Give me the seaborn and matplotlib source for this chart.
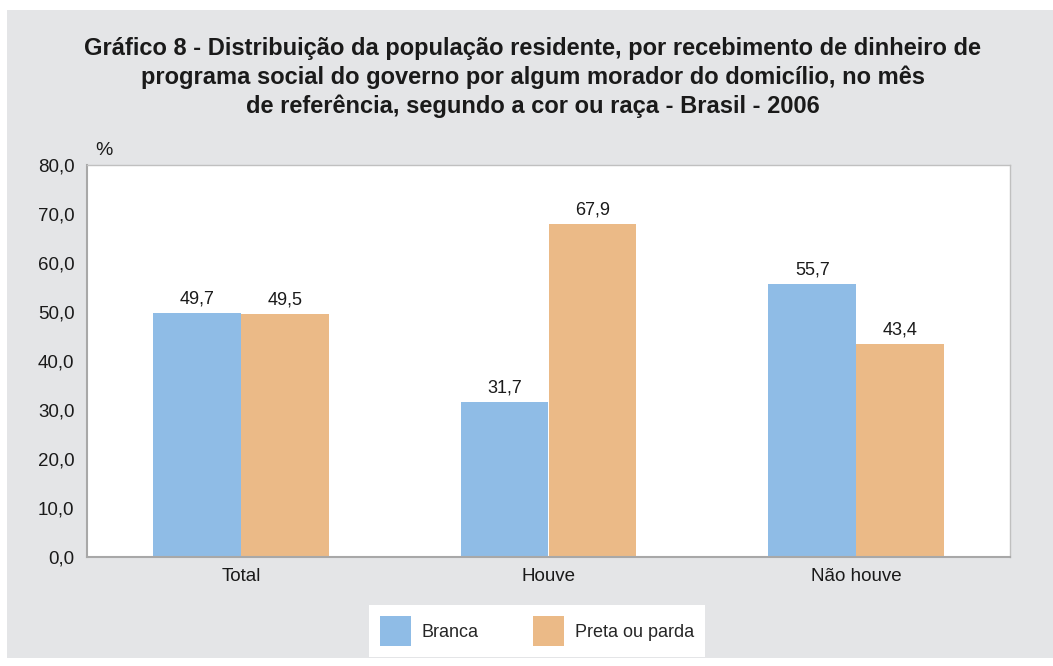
import numpy as np
import pandas as pd
import matplotlib.pyplot as plt
import matplotlib.patches as mpatches
import seaborn as sns

# data
categorias = ["Total", "Houve", "Não houve"]
branca = [49.7, 31.7, 55.7]
preta_parda = [49.5, 67.9, 43.4]
grupos = ["Branca", "Preta ou parda"]
yticks = [0, 10, 20, 30, 40, 50, 60, 70, 80]

df = pd.DataFrame({
    "categoria": categorias * 2,
    "grupo": [grupos[0]] * 3 + [grupos[1]] * 3,
    "valor": branca + preta_parda,
})

sns.set_style("white")
plt.rcParams["font.family"] = ["Liberation Sans", "DejaVu Sans"]

BG = "#e4e5e7"
TXT = "#1a1a1a"
cores = ["#8fbce6", "#ebba87"]

fig = plt.figure(figsize=(10.53, 6.66), dpi=100)
fig.patch.set_facecolor("white")
fig.add_artist(mpatches.Rectangle((7 / 1053, 8 / 666), 1 - 7 / 1053, 1 - 18 / 666,
                                  transform=fig.transFigure, facecolor=BG,
                                  edgecolor="none", zorder=-10))

ax = fig.add_axes([87 / 1053, 1 - 557 / 666, (1010 - 87) / 1053, (557 - 165) / 666])
sns.barplot(data=df, x="categoria", y="valor", hue="grupo", palette=cores,
            width=0.57, saturation=1, ax=ax, legend=False, linewidth=0, edgecolor="none")

for cont in ax.containers:
    ax.bar_label(cont, labels=[f"{v:.1f}".replace(".", ",") for v in cont.datavalues],
                 padding=4, fontsize=13, color=TXT)

ax.set_ylim(0, 80)
ax.set_xlim(-0.5, 2.5)
ax.set_yticks(yticks)
ax.set_yticklabels([f"{v:.1f}".replace(".", ",") for v in yticks], fontsize=13.5, color=TXT)
ax.set_xticks([0, 1, 2])
ax.set_xticklabels(categorias, fontsize=13.5, color=TXT)
ax.tick_params(axis="x", length=0, pad=8)
ax.tick_params(axis="y", length=5, color="#a0a0a0", pad=4)
ax.set_xticks([-0.5, 0.5, 1.5, 2.5], minor=True)
ax.tick_params(axis="x", which="minor", length=6, color="#a0a0a0", direction="out")
ax.set_xlabel("")
ax.set_ylabel("")
ax.set_facecolor("white")
for s in ["top", "right"]:
    ax.spines[s].set_color("#c0c0c0")
    ax.spines[s].set_linewidth(1)
for s in ["left", "bottom"]:
    ax.spines[s].set_color("#a8a8a8")
    ax.spines[s].set_linewidth(1.5)

ax.text(0.009, 1.015, "%", transform=ax.transAxes, fontsize=14, color=TXT,
        ha="left", va="bottom")

titulo = ("Gráfico 8 - Distribuição da população residente, por recebimento de dinheiro de\n"
          "programa social do governo por algum morador do domicílio, no mês\n"
          "de referência, segundo a cor ou raça - Brasil - 2006")
fig.text(0.506, 1 - 37 / 666, titulo, ha="center", va="top", fontsize=17,
         fontweight="bold", color=TXT, linespacing=1.3)

handles = [mpatches.Patch(facecolor=c, edgecolor="none") for c in cores]
leg = fig.legend(handles, grupos, loc="center", bbox_to_anchor=(537 / 1053, 1 - 631 / 666),
                 ncol=2, frameon=True, fontsize=13, handlelength=1.7, handleheight=2.1,
                 columnspacing=3.0, handletextpad=0.6, borderpad=0.65, borderaxespad=0,
                 fancybox=False, framealpha=1)
leg.get_frame().set_facecolor("white")
leg.get_frame().set_edgecolor("none")

fig.savefig("out.png", dpi=100, facecolor=fig.get_facecolor())
